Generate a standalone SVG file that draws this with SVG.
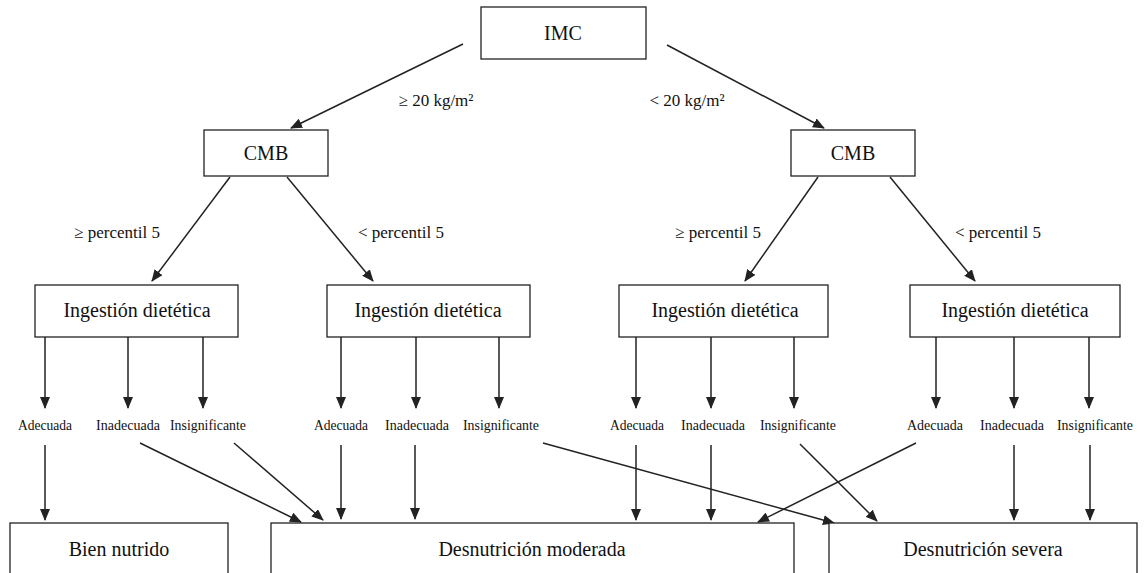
<svg xmlns="http://www.w3.org/2000/svg" width="1144" height="573" viewBox="0 0 1144 573">
<style>
.box{fill:#fff;stroke:#222;stroke-width:1.3}
text{fill:#111;text-anchor:middle}
.t{font-size:20px}
.l{font-size:17px}
.s{font-size:14px}
.c{stroke:#222;stroke-width:1.5;fill:none;marker-end:url(#ah)}
</style>
<defs>
<marker id="ah" markerUnits="userSpaceOnUse" markerWidth="12" markerHeight="10" refX="11" refY="5" orient="auto">
<path d="M0,0 L12,5 L0,10 Z" fill="#222"/>
</marker>
</defs>
<rect width="1144" height="573" fill="#fff"/>
<g id="connectors">
<line class="c" x1="463" y1="44" x2="291" y2="128"/>
<line class="c" x1="667" y1="45" x2="824" y2="128"/>
<line class="c" x1="230" y1="177" x2="152" y2="281"/>
<line class="c" x1="287" y1="177" x2="373" y2="281"/>
<line class="c" x1="818" y1="177" x2="745" y2="281"/>
<line class="c" x1="890" y1="177" x2="975" y2="281"/>
<line class="c" x1="45" y1="337" x2="45" y2="408"/>
<line class="c" x1="128" y1="337" x2="128" y2="408"/>
<line class="c" x1="203" y1="337" x2="203" y2="408"/>
<line class="c" x1="341" y1="337" x2="341" y2="408"/>
<line class="c" x1="416" y1="337" x2="416" y2="408"/>
<line class="c" x1="499" y1="337" x2="499" y2="408"/>
<line class="c" x1="636" y1="337" x2="636" y2="408"/>
<line class="c" x1="711" y1="337" x2="711" y2="408"/>
<line class="c" x1="794" y1="337" x2="794" y2="408"/>
<line class="c" x1="936" y1="337" x2="936" y2="408"/>
<line class="c" x1="1014" y1="337" x2="1014" y2="408"/>
<line class="c" x1="1089" y1="337" x2="1089" y2="408"/>
<line class="c" x1="45" y1="445" x2="45" y2="520"/>
<line class="c" x1="140" y1="443" x2="301" y2="522"/>
<line class="c" x1="234" y1="443" x2="323" y2="520"/>
<line class="c" x1="341" y1="445" x2="341" y2="519"/>
<line class="c" x1="415" y1="445" x2="415" y2="519"/>
<line class="c" x1="543" y1="443" x2="834" y2="523"/>
<line class="c" x1="636" y1="445" x2="636" y2="520"/>
<line class="c" x1="711" y1="445" x2="711" y2="520"/>
<line class="c" x1="800" y1="444" x2="877" y2="521"/>
<line class="c" x1="916" y1="443" x2="758" y2="522"/>
<line class="c" x1="1014" y1="445" x2="1014" y2="520"/>
<line class="c" x1="1090" y1="445" x2="1090" y2="520"/>
</g>
<g font-family="Liberation Serif, serif">
<g id="edge-labels">
<text class="l" x="436" y="106">≥ 20 kg/m²</text>
<text class="l" x="687" y="106">&lt; 20 kg/m²</text>
<text class="l" x="117" y="238">≥ percentil 5</text>
<text class="l" x="401" y="238">&lt; percentil 5</text>
<text class="l" x="718" y="238">≥ percentil 5</text>
<text class="l" x="998" y="238">&lt; percentil 5</text>
</g>
<g id="imc"><rect class="box" x="481" y="7" width="165" height="52"/><text class="t" x="563" y="40">IMC</text></g>
<g id="cmb1"><rect class="box" x="204" y="130" width="124" height="46"/><text class="t" x="266" y="160">CMB</text></g>
<g id="cmb2"><rect class="box" x="791" y="130" width="124" height="46"/><text class="t" x="853" y="160">CMB</text></g>
<g id="ing1"><rect class="box" x="35" y="285" width="203" height="52"/><text class="t" x="137" y="317">Ingestión dietética</text></g>
<g id="ing2"><rect class="box" x="327" y="285" width="203" height="52"/><text class="t" x="428" y="317">Ingestión dietética</text></g>
<g id="ing3"><rect class="box" x="619" y="285" width="209" height="52"/><text class="t" x="725" y="317">Ingestión dietética</text></g>
<g id="ing4"><rect class="box" x="910" y="285" width="210" height="52"/><text class="t" x="1015" y="317">Ingestión dietética</text></g>
<g id="outcomes">
<text class="s" x="45" y="430" textLength="54" lengthAdjust="spacingAndGlyphs">Adecuada</text>
<text class="s" x="128" y="430" textLength="64" lengthAdjust="spacingAndGlyphs">Inadecuada</text>
<text class="s" x="208" y="430" textLength="76" lengthAdjust="spacingAndGlyphs">Insignificante</text>
<text class="s" x="341" y="430" textLength="54" lengthAdjust="spacingAndGlyphs">Adecuada</text>
<text class="s" x="417" y="430" textLength="64" lengthAdjust="spacingAndGlyphs">Inadecuada</text>
<text class="s" x="501" y="430" textLength="76" lengthAdjust="spacingAndGlyphs">Insignificante</text>
<text class="s" x="637" y="430" textLength="54" lengthAdjust="spacingAndGlyphs">Adecuada</text>
<text class="s" x="713" y="430" textLength="64" lengthAdjust="spacingAndGlyphs">Inadecuada</text>
<text class="s" x="798" y="430" textLength="76" lengthAdjust="spacingAndGlyphs">Insignificante</text>
<text class="s" x="935" y="430" textLength="56" lengthAdjust="spacingAndGlyphs">Adecuada</text>
<text class="s" x="1012" y="430" textLength="64" lengthAdjust="spacingAndGlyphs">Inadecuada</text>
<text class="s" x="1095" y="430" textLength="76" lengthAdjust="spacingAndGlyphs">Insignificante</text>
</g>
<g id="bien"><rect class="box" x="10" y="523" width="218" height="70"/><text class="t" x="119" y="556">Bien nutrido</text></g>
<g id="moderada"><rect class="box" x="271" y="523" width="523" height="70"/><text class="t" x="532" y="556">Desnutrición moderada</text></g>
<g id="severa"><rect class="box" x="829" y="523" width="308" height="70"/><text class="t" x="983" y="556">Desnutrición severa</text></g>
</g>
</svg>
